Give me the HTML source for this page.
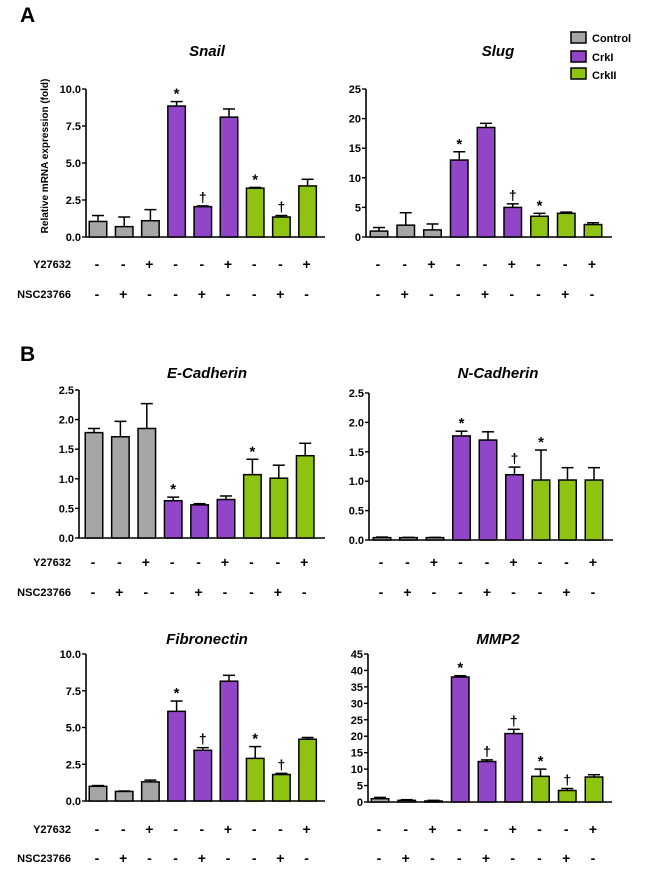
<!DOCTYPE html>
<html><head><meta charset="utf-8"><style>
html,body{margin:0;padding:0;background:#fff;}
svg{display:block;font-family:"Liberation Sans",Arial,sans-serif;}
</style></head><body>
<svg id="fig" width="650" height="871" viewBox="0 0 650 871">
<text x="20" y="22" font-size="21" font-weight="bold">A</text>
<text x="20" y="361" font-size="21" font-weight="bold">B</text>
<text transform="translate(48,156) rotate(-90)" text-anchor="middle" font-size="10" font-weight="bold">Relative mRNA expression (fold)</text>
<g>
<rect x="571" y="32" width="15" height="11" fill="#a6a6a8" stroke="#000" stroke-width="1.5"/>
<text x="592" y="42" font-size="11" font-weight="bold">Control</text>
<rect x="571" y="51" width="15" height="11" fill="#9146c8" stroke="#000" stroke-width="1.5"/>
<text x="592" y="61" font-size="11" font-weight="bold">CrkI</text>
<rect x="571" y="68" width="15" height="11" fill="#8ec411" stroke="#000" stroke-width="1.5"/>
<text x="592" y="79" font-size="11" font-weight="bold">CrkII</text>
</g>
</svg>
<script>
const titles = ["Snail","Slug","E-Cadherin","N-Cadherin","Fibronectin","MMP2"];
const snailVals = [1.05,0.7,1.1,8.85,2.05,8.1,3.3,1.35,3.45];
const snailErr = [0.4,0.65,0.75,0.3,0.05,0.55,0.05,0.1,0.45];
const snailMarks = ["","","","*","†","","*","†",""];
const snailTicks = ["0.0","2.5","5.0","7.5","10.0"];
const slugVals = [1.0,2.0,1.2,13.0,18.5,5.0,3.5,4.0,2.1];
const slugErr = [0.6,2.1,1.0,1.4,0.7,0.6,0.5,0.2,0.3];
const slugMarks = ["","","","*","","†","*","",""];
const slugTicks = ["0","5","10","15","20","25"];
const ecadVals = [1.78,1.71,1.85,0.63,0.56,0.65,1.07,1.01,1.39];
const ecadErr = [0.07,0.26,0.42,0.06,0.02,0.06,0.26,0.22,0.21];
const ecadMarks = ["","","","*","","","*","",""];
const ecadTicks = ["0.0","0.5","1.0","1.5","2.0","2.5"];
const ncadVals = [0.04,0.04,0.04,1.77,1.70,1.11,1.02,1.02,1.02];
const ncadErr = [0.01,0.005,0.005,0.08,0.14,0.13,0.51,0.21,0.21];
const ncadMarks = ["","","","*","","†","*","",""];
const ncadTicks = ["0.0","0.5","1.0","1.5","2.0","2.5"];
const fibVals = [1.0,0.65,1.3,6.1,3.45,8.15,2.9,1.8,4.2];
const fibErr = [0.05,0.03,0.12,0.7,0.18,0.4,0.8,0.08,0.12];
const fibMarks = ["","","","*","†","","*","†",""];
const fibTicks = ["0.0","2.5","5.0","7.5","10.0"];
const mmpVals = [1.0,0.5,0.3,38,12.3,20.8,7.8,3.5,7.6];
const mmpErr = [0.4,0.2,0.2,0.4,0.5,1.3,2.2,0.6,0.7];
const mmpMarks = ["","","","*","†","†","*","†",""];
const mmpTicks = ["0","5","10","15","20","25","30","35","40","45"];
const groups = ["control","control","control","crki","crki","crki","crkii","crkii","crkii"];
const y27632 = ["-","-","+","-","-","+","-","-","+"];
const nsc23766 = ["-","+","-","-","+","-","-","+","-"];

const colors = {control:"#a6a6a8",crki:"#9146c8",crkii:"#8ec411"};
const NS = "http://www.w3.org/2000/svg";
const svg = document.getElementById("fig");
function mk(tag, attrs, parent){const e=document.createElementNS(NS,tag);for(const k in attrs)e.setAttribute(k,attrs[k]);(parent||svg).appendChild(e);return e;}

const panels = [
 {t:0,vals:snailVals,err:snailErr,marks:snailMarks,ticks:snailTicks,ax:86,xe:325,yt:89,yb:237,c0:98,sp:26.2,tx:207,ty:56,rows:[269,299],lab:true},
 {t:1,vals:slugVals,err:slugErr,marks:slugMarks,ticks:slugTicks,ax:366,xe:612,yt:89,yb:237,c0:379,sp:26.75,tx:498,ty:56,rows:[269,299],lab:false},
 {t:2,vals:ecadVals,err:ecadErr,marks:ecadMarks,ticks:ecadTicks,ax:79,xe:325,yt:390,yb:538,c0:94,sp:26.4,tx:207,ty:378,rows:[567,597],lab:true},
 {t:3,vals:ncadVals,err:ncadErr,marks:ncadMarks,ticks:ncadTicks,ax:369,xe:613,yt:393,yb:540,c0:382,sp:26.5,tx:498,ty:378,rows:[567,597],lab:false},
 {t:4,vals:fibVals,err:fibErr,marks:fibMarks,ticks:fibTicks,ax:86,xe:325,yt:654,yb:801,c0:98,sp:26.2,tx:207,ty:644,rows:[834,863],lab:true},
 {t:5,vals:mmpVals,err:mmpErr,marks:mmpMarks,ticks:mmpTicks,ax:368,xe:612,yt:654,yb:802,c0:380,sp:26.75,tx:498,ty:644,rows:[834,863],lab:false}
];

panels.forEach(p=>{
 const g = mk("g",{});
 
 
 const tMax = parseFloat(p.ticks[p.ticks.length-1]);
 const yS = v => p.yb - v/tMax*(p.yb-p.yt);
 const xS = i => p.c0 + i*p.sp;
 const tt = mk("text",{x:p.tx,y:p.ty,"text-anchor":"middle","font-size":"15","font-weight":"bold","font-style":"italic"},g);
 tt.textContent = titles[p.t];
 
 
 const ya = mk("line",{x1:p.ax,y1:p.yt,x2:p.ax,y2:p.yb,stroke:"#000","stroke-width":"1.6"},g);
 
 
 const xa = mk("line",{x1:p.ax,y1:p.yb,x2:p.xe,y2:p.yb,stroke:"#000","stroke-width":"1.6"},g);
 
 
 p.ticks.forEach(tk=>{
  const y = yS(parseFloat(tk));
  mk("line",{x1:p.ax-4,y1:y,x2:p.ax,y2:y,stroke:"#000","stroke-width":"1.4"},g);
  const tl = mk("text",{x:p.ax-5,y:y+4,"text-anchor":"end","font-size":"11","font-weight":"bold"},g);
  tl.textContent = tk;
  
  
 });
 p.vals.forEach((v,i)=>{
  const cx = xS(i), w=17.5;
  const top = yS(v), et = yS(v+p.err[i]);
  const el = mk("line",{x1:cx,y1:et,x2:cx,y2:top,stroke:"#000","stroke-width":"1.5"},g);
  
  
  mk("line",{x1:cx-6,y1:et,x2:cx+6,y2:et,stroke:"#000","stroke-width":"1.5"},g);
  const b = mk("rect",{x:cx-w/2,y:top,width:w,height:Math.max(p.yb-top,0.5),fill:colors[groups[i]],stroke:"#000","stroke-width":"1.5"},g);
  
  
  if(p.marks[i]){
   const m = mk("text",{x:cx,y:et-(p.marks[i]==="*"?3:4),"text-anchor":"middle","font-size":p.marks[i]==="*"?"15":"14","font-weight":"bold"},g);
   m.textContent = p.marks[i];
   
   
  }
  [y27632,nsc23766].forEach((arr,r)=>{
   const s = mk("text",{x:cx-1,y:p.rows[r],"text-anchor":"middle","font-size":"14","font-weight":"bold"},g);
   s.textContent = arr[i]==="-" ? "-" : "+";
   
   
  });
 });
 if(p.lab){
  ["Y27632","NSC23766"].forEach((lb,r)=>{
   const l = mk("text",{x:71,y:p.rows[r]-1,"text-anchor":"end","font-size":"11","font-weight":"bold"},g);
   l.textContent = lb;
   
   
  });
 }
});
</script>
</body></html>
